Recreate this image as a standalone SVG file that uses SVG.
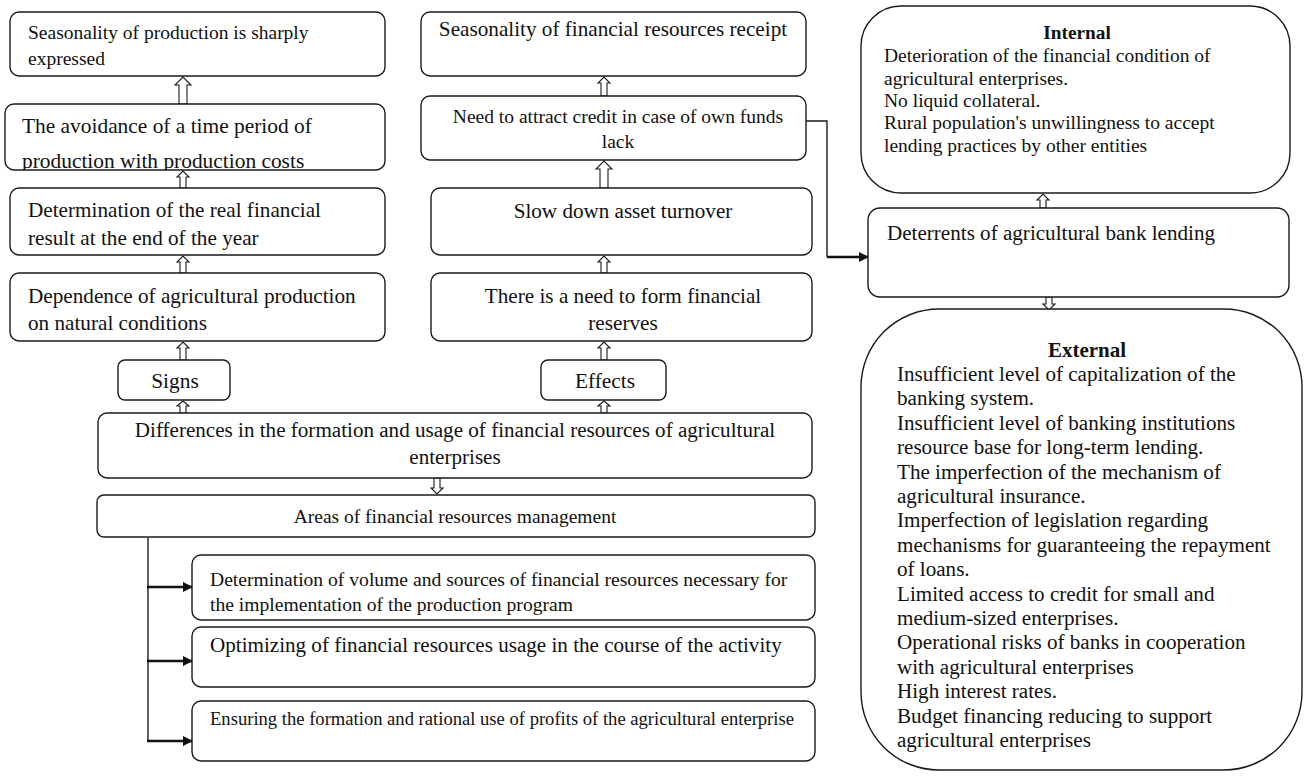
<svg xmlns="http://www.w3.org/2000/svg" width="1306" height="776" viewBox="0 0 1306 776">
<style>
.b{fill:#fff;stroke:#1a1a1a;stroke-width:1.4}
.t{font-family:"Liberation Serif","Times New Roman",serif;fill:#111}
.c{text-anchor:middle}
.bold{font-weight:bold}
.ba{fill:#fff;stroke:#1a1a1a;stroke-width:1.1}
.ln{fill:none;stroke:#1a1a1a;stroke-width:1.4}
.th{fill:none;stroke:#111;stroke-width:2.6}
</style>
<defs>
<marker id="ah" viewBox="0 0 10 10" refX="9" refY="5" markerWidth="10" markerHeight="10" markerUnits="userSpaceOnUse" orient="auto"><path d="M0,0 L10,5 L0,10 z" fill="#111"/></marker>
<clipPath id="cp2"><rect x="5" y="104" width="380" height="66"/></clipPath>
</defs>
<rect width="1306" height="776" fill="#fff"/>

<g id="connectors">
<polygon class="ba" points="179,104 179,85 175,85 183,77 191,85 187,85 187,104"/>
<polygon class="ba" points="180,188 180,177 177,177 183,171 189,177 186,177 186,188"/>
<polygon class="ba" points="180,273 180,262 177,262 183,256 189,262 186,262 186,273"/>
<polygon class="ba" points="180,360 180,348 177,348 183,342 189,348 186,348 186,360"/>
<polygon class="ba" points="180,413 180,406 177,406 183,401 189,406 186,406 186,413"/>
<polygon class="ba" points="601,96 601,83 598,83 604,77 610,83 607,83 607,96"/>
<polygon class="ba" points="600,188 600,169 596,169 604,161 612,169 608,169 608,188"/>
<polygon class="ba" points="601,273 601,262 598,262 604,256 610,262 607,262 607,273"/>
<polygon class="ba" points="601,360 601,348 598,348 604,342 610,348 607,348 607,360"/>
<polygon class="ba" points="601,413 601,406 598,406 604,401 610,406 607,406 607,413"/>
<polygon class="ba" points="434,478 434,488 431,488 437,494 443,488 440,488 440,478"/>
<polygon class="ba" points="1040,208 1040,200 1037,200 1043,194 1049,200 1046,200 1046,208"/>
<polygon class="ba" points="1046,297 1046,304 1043,304 1049,310 1055,304 1052,304 1052,297"/>
<polyline class="ln" points="806,121 827,121 827,257"/>
<line class="th" x1="827" y1="257" x2="868" y2="257" marker-end="url(#ah)"/>
<line class="ln" x1="148" y1="538" x2="148" y2="741"/>
<line class="th" x1="147" y1="587" x2="192" y2="587" marker-end="url(#ah)"/>
<line class="th" x1="147" y1="661" x2="192" y2="661" marker-end="url(#ah)"/>
<line class="th" x1="147" y1="741" x2="192" y2="741" marker-end="url(#ah)"/>
</g>

<g id="n-seasonality-production">
<rect class="b" x="10" y="12" width="375" height="64" rx="9"/>
<text class="t" x="28" y="39" font-size="19.5">Seasonality of production is sharply</text>
<text class="t" x="28" y="65" font-size="19.5">expressed</text>
</g>
<g id="n-avoidance">
<rect class="b" x="5" y="104" width="380" height="66" rx="9"/>
<g clip-path="url(#cp2)">
<text class="t" x="22" y="133" font-size="21.4">The avoidance of a time period of</text>
<text class="t" x="22" y="168" font-size="21.4">production with production costs</text>
</g>
</g>
<g id="n-real-result">
<rect class="b" x="10" y="188" width="375" height="67" rx="9"/>
<text class="t" x="28" y="217" font-size="21.2">Determination of the real financial</text>
<text class="t" x="28" y="245" font-size="21.2">result at the end of the year</text>
</g>
<g id="n-dependence">
<rect class="b" x="10" y="273" width="375" height="68" rx="9"/>
<text class="t" x="28" y="303" font-size="21.2">Dependence of agricultural production</text>
<text class="t" x="28" y="330" font-size="21.2">on natural conditions</text>
</g>
<g id="n-signs">
<rect class="b" x="118" y="360" width="112" height="40" rx="7"/>
<text class="t c" x="175" y="388" font-size="21.4">Signs</text>
</g>

<g id="n-seasonality-receipt">
<rect class="b" x="421" y="12" width="385" height="64" rx="9"/>
<text class="t c" x="613" y="36" font-size="21.2">Seasonality of financial resources receipt</text>
</g>
<g id="n-need-credit">
<rect class="b" x="421" y="96" width="385" height="64" rx="9"/>
<text class="t c" x="618" y="123" font-size="19.5">Need to attract credit in case of own funds</text>
<text class="t c" x="618" y="148" font-size="19.5">lack</text>
</g>
<g id="n-slow-down">
<rect class="b" x="431" y="188" width="381" height="67" rx="9"/>
<text class="t c" x="623" y="218" font-size="21.1">Slow down asset turnover</text>
</g>
<g id="n-reserves">
<rect class="b" x="431" y="273" width="381" height="68" rx="9"/>
<text class="t c" x="623" y="303" font-size="21.2">There is a need to form financial</text>
<text class="t c" x="623" y="330" font-size="21.2">reserves</text>
</g>
<g id="n-effects">
<rect class="b" x="541" y="360" width="125" height="40" rx="7"/>
<text class="t c" x="605" y="388" font-size="21.4">Effects</text>
</g>

<g id="n-differences">
<rect class="b" x="98" y="413" width="714" height="65" rx="9"/>
<text class="t c" x="455" y="437" font-size="21.1">Differences in the formation and usage of financial resources of agricultural</text>
<text class="t c" x="455" y="464" font-size="21.1">enterprises</text>
</g>
<g id="n-areas">
<rect class="b" x="97" y="495" width="718" height="42" rx="7"/>
<text class="t c" x="455" y="523" font-size="19.5">Areas of financial resources management</text>
</g>
<g id="n-determination-volume">
<rect class="b" x="192" y="555" width="623" height="65" rx="9"/>
<text class="t" x="210" y="586" font-size="19.6">Determination of volume and sources of financial resources necessary for</text>
<text class="t" x="210" y="611" font-size="19.6">the implementation of the production program</text>
</g>
<g id="n-optimizing">
<rect class="b" x="192" y="627" width="623" height="60" rx="9"/>
<text class="t" x="210" y="652" font-size="21.1">Optimizing of financial resources usage in the course of the activity</text>
</g>
<g id="n-ensuring">
<rect class="b" x="192" y="701" width="623" height="60" rx="9"/>
<text class="t" x="210" y="725" font-size="18.6">Ensuring the formation and rational use of profits of the agricultural enterprise</text>
</g>

<g id="n-internal">
<rect class="b" x="861" y="6" width="429" height="187" rx="40"/>
<text class="t c bold" x="1077" y="39" font-size="19.3">Internal</text>
<text class="t" x="884" y="62" font-size="19.5">Deterioration of the financial condition of</text>
<text class="t" x="884" y="85" font-size="19.5">agricultural enterprises.</text>
<text class="t" x="884" y="107" font-size="19.5">No liquid collateral.</text>
<text class="t" x="884" y="129" font-size="19.5">Rural population's unwillingness to accept</text>
<text class="t" x="884" y="152" font-size="19.5">lending practices by other entities</text>
</g>
<g id="n-deterrents">
<rect class="b" x="868" y="208" width="421" height="89" rx="12"/>
<text class="t" x="887" y="240" font-size="21.1">Deterrents of agricultural bank lending</text>
</g>
<g id="n-external">
<rect class="b" x="861" y="309" width="441" height="461" rx="78"/>
<text class="t c bold" x="1087" y="357" font-size="21">External</text>
<g class="t" font-size="21.1">
<text x="897" y="381">Insufficient level of capitalization of the</text>
<text x="897" y="405">banking system.</text>
<text x="897" y="430">Insufficient level of banking institutions</text>
<text x="897" y="454">resource base for long-term lending.</text>
<text x="897" y="479">The imperfection of the mechanism of</text>
<text x="897" y="503">agricultural insurance.</text>
<text x="897" y="527">Imperfection of legislation regarding</text>
<text x="897" y="552">mechanisms for guaranteeing the repayment</text>
<text x="897" y="576">of loans.</text>
<text x="897" y="601">Limited access to credit for small and</text>
<text x="897" y="625">medium-sized enterprises.</text>
<text x="897" y="649">Operational risks of banks in cooperation</text>
<text x="897" y="674">with agricultural enterprises</text>
<text x="897" y="698">High interest rates.</text>
<text x="897" y="723">Budget financing reducing to support</text>
<text x="897" y="747">agricultural enterprises</text>
</g>
</g>
</svg>
